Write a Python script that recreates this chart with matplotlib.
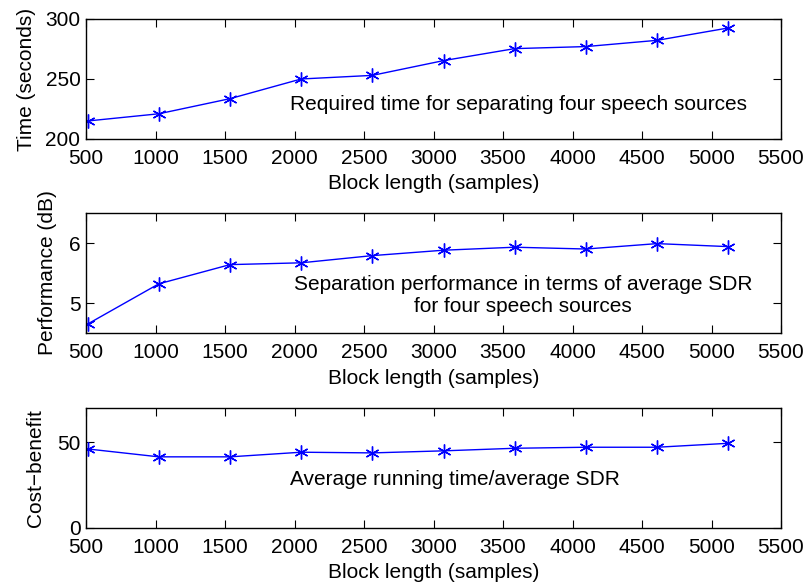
import matplotlib
matplotlib.use("Agg")
import matplotlib.pyplot as plt

plt.rcParams['font.family'] = ['Liberation Sans', 'DejaVu Sans']
plt.rcParams['font.size'] = 15

# block lengths in samples
block_len = [512, 1024, 1536, 2048, 2560, 3072, 3584, 4096, 4608, 5120]

# separation time (s), average SDR (dB) and time/SDR ratio
run_time = [215.0, 221.0, 233.6, 250.0, 253.0, 265.3, 275.3, 277.0, 282.2, 292.5]
sdr = [4.65, 5.32, 5.64, 5.67, 5.79, 5.88, 5.93, 5.90, 5.99, 5.94]
cost_benefit = [46.1, 41.5, 41.5, 44.2, 43.8, 45.0, 46.5, 47.1, 47.1, 49.4]

xticks = [500, 1000, 1500, 2000, 2500, 3000, 3500, 4000, 4500, 5000, 5500]

fig = plt.figure(figsize=(8.06, 5.82), dpi=100)
ax1 = fig.add_axes([0.1067, 0.7612, 0.8623, 0.2062])
ax2 = fig.add_axes([0.1067, 0.4278, 0.8623, 0.2062])
ax3 = fig.add_axes([0.1067, 0.0928, 0.8623, 0.2062])

star = (6, 2, 0)


def style_axes(ax, ylab, ylab_x):
    ax.set_xlim(500, 5500)
    ax.set_xticks(xticks)
    ax.tick_params(axis="x", direction="in", top=True, length=6, width=0.8, pad=7)
    ax.tick_params(axis="y", direction="in", right=True, length=6, width=0.8, pad=4)
    for s in ax.spines.values():
        s.set_linewidth(1.0)
    ax.set_xlabel("Block length (samples)")
    ax.xaxis.label.set_verticalalignment("center")
    ax.xaxis.set_label_coords(0.5, -0.375)
    ax.set_ylabel(ylab)
    ax.yaxis.label.set_verticalalignment("center")
    ax.yaxis.set_label_coords(ylab_x, 0.5)


ax1.plot(block_len, run_time, color="blue", lw=1.0, marker=star,
         markersize=10, markeredgewidth=1.0)
ax1.set_ylim(200, 300)
ax1.set_yticks([200, 250, 300])
ax1.text(1968, 228.5, "Required time for separating four speech sources",
         ha="left", va="center")
style_axes(ax1, "Time (seconds)", -0.086)

ax2.plot(block_len, sdr, color="blue", lw=1.0, marker=star,
         markersize=10, markeredgewidth=1.0)
ax2.set_ylim(4.5, 6.5)
ax2.set_yticks([5, 6])
ax2.text(3644, 5.125, "Separation performance in terms of average SDR\nfor four speech sources",
         ha="center", va="center", multialignment="center", linespacing=1.2)
style_axes(ax2, "Performance (dB)", -0.055)

ax3.plot(block_len, cost_benefit, color="blue", lw=1.0, marker=star,
         markersize=10, markeredgewidth=1.0)
ax3.set_ylim(0, 70)
ax3.set_yticks([0, 50])
ax3.text(1968, 28, "Average running time/average SDR",
         ha="left", va="center")
style_axes(ax3, "Cost\u2212benefit", -0.073)

fig.savefig("out.png", dpi=100)
